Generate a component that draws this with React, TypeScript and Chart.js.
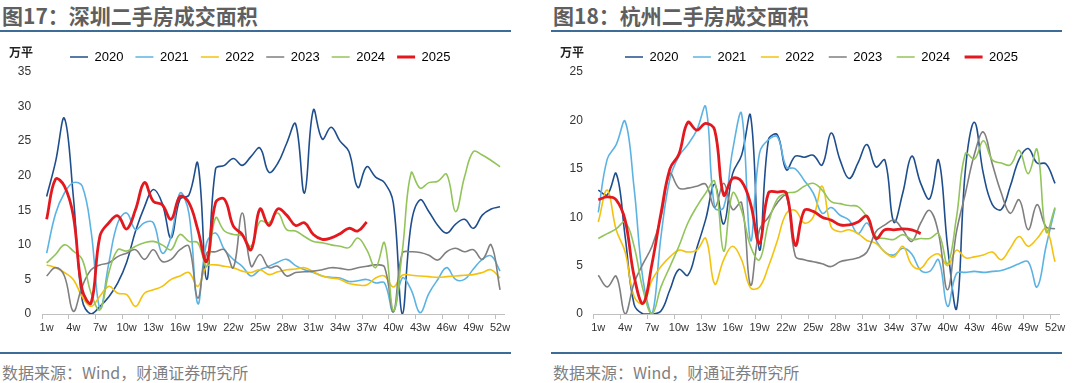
import React, { useEffect, useRef } from 'react';
import { Chart, registerables } from 'chart.js';

Chart.register(...registerables);

// ---- categories / labels ----
const weeks = [
  '1w', '2w', '3w', '4w', '5w', '6w', '7w', '8w', '9w', '10w', '11w', '12w', '13w',
  '14w', '15w', '16w', '17w', '18w', '19w', '20w', '21w', '22w', '23w', '24w', '25w', '26w',
  '27w', '28w', '29w', '30w', '31w', '32w', '33w', '34w', '35w', '36w', '37w', '38w', '39w',
  '40w', '41w', '42w', '43w', '44w', '45w', '46w', '47w', '48w', '49w', '50w', '51w', '52w',
];
const seriesNames = ['2020', '2021', '2022', '2023', '2024', '2025'];
const seriesColors = ['#1f4e8d', '#5cb3e3', '#f4c20d', '#7f7f7f', '#92c45a', '#e3191f'];

// ---- Shenzhen (万平) ----
const sz2020 = [17, 22, 28.3, 17, 2, 0, 1.1, 2.5, 4.5, 7.5, 12, 15.5, 18, 16, 11, 16.6, 17.2, 21.8, 5, 21, 21.5, 22.5, 21.5, 22.8, 24, 20.5, 21.8, 24.7, 27.5, 17.5, 29.5, 25.3, 27, 25, 23.5, 18.3, 21.3, 19.8, 19, 16, 0, 13, 16.5, 14.8, 12.8, 11.7, 13, 13.7, 12.4, 14.3, 15.2, 15.5];
const sz2021 = [8.8, 14.5, 17.5, 19, 18.5, 12, 0.8, 7.4, 13.2, 14.6, 12.2, 13.2, 13.2, 8.8, 11.2, 17.5, 14.6, 1.5, 10.3, 11.7, 9.3, 7.9, 6.9, 5.5, 6.4, 6.9, 7.5, 7.9, 7, 6.4, 6, 5.5, 5.3, 5.2, 4.7, 4.8, 5, 4.5, 4.5, 0.3, 5.2, 3.5, 0.2, 3, 5, 6.7, 5, 5, 6.5, 7.9, 8.4, 6.2];
const sz2022 = [7.1, 6.7, 6, 5, 2.5, 1.1, 2.6, 4, 3, 2.8, 1.1, 3, 3.5, 4, 5, 5.5, 6, 4, 6.9, 7.1, 6.9, 6.7, 6.2, 6, 6.4, 5.7, 6.1, 6.4, 6.5, 6.7, 6.1, 5.5, 5.2, 5, 4.4, 4.2, 4.2, 5.2, 5.5, 3.9, 5.6, 5.6, 5.5, 5.4, 5.3, 5.4, 5.5, 5.6, 5.7, 6, 6.4, 5.2];
const sz2023 = [5.5, 6.7, 5.5, 0.4, 4, 6.4, 7.1, 7.4, 8.3, 8.8, 9.3, 7.9, 9.3, 7.6, 7.9, 9.3, 9.8, 2.3, 8.8, 9, 9.3, 6.7, 14.6, 6.9, 8.6, 6.7, 6.9, 5.5, 6, 6.1, 6.2, 6.4, 6.7, 6.6, 6.4, 6.7, 6.9, 7.1, 6.8, 0.3, 8.8, 9, 8.9, 8.5, 7.8, 9, 9.5, 9, 9.3, 7.9, 10, 3.5];
const sz2024 = [7.4, 8.6, 10, 9.1, 7.9, 3, 0.6, 6, 9.3, 9.1, 9.8, 10.3, 10.5, 10, 9.3, 11.5, 10.5, 10.3, 6.9, 13.9, 12, 11.5, 11.3, 9.8, 13.4, 13.2, 14.6, 12.2, 12, 11.2, 10.5, 10.3, 10, 9.8, 9.6, 11, 9.3, 6.7, 10.3, 0.5, 9, 20.4, 18.2, 19, 19.2, 20.2, 14.8, 19.8, 23.5, 23, 22.2, 21.3];
const sz2025 = [13.7, 19.5, 18.5, 14.2, 3.5, 1.6, 11.3, 13.2, 14.2, 12.3, 15.1, 19, 16.3, 15.8, 13.7, 17, 16.1, 12.2, 7.6, 16.1, 16.6, 12.7, 11.5, 9.3, 15.2, 12.8, 15.2, 14.3, 12.8, 13.2, 11.5, 10.8, 11, 11.6, 12.4, 12, 13.3];

// ---- Hangzhou (万平) ----
const hz2020 = [12.8, 12.3, 14.5, 8, 1, 0, 0, 0.3, 2.5, 4.6, 4, 6.8, 9.8, 13.4, 9.3, 14.5, 16.4, 20.5, 6.6, 18, 18.5, 14.9, 16.3, 16.2, 16.4, 15.4, 18.7, 15.9, 14, 15.6, 17.5, 15.2, 15.9, 9.5, 12.5, 16.3, 13.5, 11.9, 15.9, 7, 0.5, 15, 19.8, 14.5, 11.3, 10.8, 13.2, 16, 17.1, 15.6, 15.5, 13.5];
const hz2021 = [10.5, 16, 17.5, 19.9, 13, 3.5, 0, 8, 14, 16.3, 17.5, 19, 21.4, 11, 11, 16.9, 20.7, 7.6, 16.6, 18, 18.3, 15.2, 15, 13.8, 12.5, 10.4, 11, 10.2, 9.7, 8.3, 9.4, 7.6, 6.4, 6.1, 6.8, 6.2, 4.5, 4.4, 5.6, 0.8, 4.2, 4.3, 4.4, 4.3, 4.4, 4.5, 4.8, 5.2, 5.4, 2.8, 7, 10.9];
const hz2022 = [9.5, 12.8, 8.7, 6.4, 1.8, 1.1, 3.5, 4.9, 5.9, 6.6, 6.4, 6.6, 7.8, 3.1, 5.6, 7, 5.6, 2.7, 2.8, 4.9, 7.6, 10.4, 10.7, 9.4, 10, 13.2, 9, 8.5, 8.7, 8.3, 7.6, 7.3, 6.4, 5.9, 7, 5.1, 4.7, 5.8, 6.2, 5, 6.6, 5.8, 5.9, 6.1, 6.4, 5.6, 6.8, 8, 7, 7.8, 8.8, 5.4];
const hz2023 = [4, 2.8, 3.9, 0, 3.2, 5.2, 7, 10, 14.5, 13, 13, 13.2, 13.4, 11, 13.5, 10.8, 11.5, 3, 8.7, 10, 11.5, 12.2, 6, 5.6, 5.4, 5.2, 4.9, 5.4, 5.6, 5.8, 6.4, 8.5, 9.2, 9.7, 8.7, 7.5, 9.4, 10.7, 8.3, 2.5, 8.5, 12.5, 16.5, 18.8, 15.5, 12.5, 10.4, 11.8, 8.7, 11.3, 9, 8.8];
const hz2024 = [7.8, 8.3, 8.8, 9.5, 7, 2.5, 0, 2.8, 4.9, 7, 9.4, 11.1, 12.5, 13.7, 6.5, 12.5, 10.7, 7, 5.6, 9.4, 11.9, 12.5, 12.6, 13.2, 13.5, 12.8, 11.6, 11.4, 11.2, 11.1, 10, 8, 7.8, 7.7, 8.2, 7.7, 7.8, 7.8, 8.3, 5.2, 10, 16.6, 16, 17.9, 15.9, 15.6, 15.4, 16.9, 14.5, 17, 8.5, 11];
const hz2025 = [11.8, 12.1, 11.8, 9.7, 3.9, 1.1, 5.2, 10.4, 15, 16.5, 19.8, 19, 19.7, 19, 12.3, 14, 13.7, 11.4, 7.3, 12.5, 12.6, 12.5, 7.1, 10.7, 10.6, 10, 9.7, 9.2, 9.2, 9.5, 10.1, 7.8, 8.7, 8.7, 8.8, 8.7, 8.3];

const szSeries = [sz2020, sz2021, sz2022, sz2023, sz2024, sz2025];
const hzSeries = [hz2020, hz2021, hz2022, hz2023, hz2024, hz2025];

const szYMax = 35;
const hzYMax = 25;

const AXIS_FONT = 'Arial, "Liberation Sans", sans-serif';
const CJK_FONT = '"Noto Sans CJK SC", "Noto Sans", sans-serif';

type PanelGeom = {
  left: number;
  top: number;
  width: number;
  height: number;
  padLeft: number;
  padRight: number;
  padTop: number;
  yWidth: number;
  legendPad: number;
  legendMaxH: number;
  legendStartX: number; // canvas x where first legend line starts
};

function ChartPanel({ series, yMax, g }: { series: number[][]; yMax: number; g: PanelGeom }) {
  const ref = useRef<HTMLCanvasElement | null>(null);
  useEffect(() => {
    if (!ref.current) return;
    const legendShift = {
      id: 'legendShift',
      afterLayout(chart: any) {
        const lg = chart.legend;
        if (!lg || !lg.lineWidths) return;
        const p = lg.options.labels.padding;
        const start = (lg.left + p + lg.right - lg.lineWidths[0]) / 2;
        const dx = g.legendStartX - start;
        lg.left += dx;
        lg.right += dx;
      },
    };
    const chart = new Chart(ref.current, {
      type: 'line',
      data: {
        labels: weeks,
        datasets: seriesNames.map((name, i) => ({
          label: name,
          data: series[i],
          borderColor: seriesColors[i],
          backgroundColor: seriesColors[i],
          borderWidth: i === 5 ? 2.8 : 1.6,
          pointRadius: 0,
          pointHoverRadius: 0,
          tension: 0.4,
          fill: false,
          order: 5 - i,
        })),
      },
      options: {
        animation: false,
        responsive: false,
        maintainAspectRatio: false,
        events: [],
        layout: { padding: { left: g.padLeft, right: g.padRight, top: g.padTop, bottom: 0 } },
        plugins: {
          tooltip: { enabled: false },
          legend: {
            display: true,
            position: 'top',
            align: 'center',
            maxHeight: g.legendMaxH,
            labels: {
              usePointStyle: true,
              pointStyle: 'line',
              pointStyleWidth: 18,
              padding: g.legendPad,
              color: '#000',
              font: { family: AXIS_FONT, size: 13 },
              sort: (a: any, b: any) => a.datasetIndex - b.datasetIndex,
            },
          },
        },
        scales: {
          x: {
            offset: true,
            grid: {
              offset: true,
              drawOnChartArea: false,
              drawTicks: true,
              tickLength: 5,
              color: (ctx: any) => (ctx.index !== undefined && ctx.index % 3 === 0 ? '#bfbfbf' : 'rgba(0,0,0,0)'),
            },
            border: { display: true, color: '#bfbfbf', width: 1 },
            ticks: {
              autoSkip: false,
              maxRotation: 0,
              minRotation: 0,
              padding: 2,
              color: '#333',
              font: { family: AXIS_FONT, size: 11 },
              callback: (_v: any, i: number) => (i % 3 === 0 ? weeks[i] : ''),
            },
            afterFit: (s: any) => {
              s.height = 26;
            },
          },
          y: {
            min: 0,
            max: yMax,
            ticks: { stepSize: 5, padding: 11, color: '#333', font: { family: AXIS_FONT, size: 12 } },
            grid: { display: false, drawTicks: false },
            border: { display: false },
            afterFit: (s: any) => {
              s.width = g.yWidth;
            },
          },
        },
      },
      plugins: [legendShift],
    } as any);
    return () => chart.destroy();
  }, []);
  return (
    <canvas
      ref={ref}
      width={g.width}
      height={g.height}
      style={{ position: 'absolute', left: g.left, top: g.top, width: g.width, height: g.height }}
    />
  );
}

const leftGeom: PanelGeom = {
  left: 0, top: 36, width: 515, height: 304,
  padLeft: 4, padRight: 10.5, padTop: 2.5, yWidth: 38.2,
  legendPad: 12, legendMaxH: 33.5, legendStartX: 70,
};
const rightGeom: PanelGeom = {
  left: 551, top: 36, width: 521, height: 304,
  padLeft: 4, padRight: 12.5, padTop: 0, yWidth: 38.8,
  legendPad: 14.5, legendMaxH: 36, legendStartX: 74,
};

function Header({ x, lineW, text }: { x: number; lineW: number; text: string }) {
  return (
    <>
      <div
        style={{
          position: 'absolute', left: x + 2, top: 4, height: 22, lineHeight: '22px',
          fontFamily: CJK_FONT, fontSize: 21, fontWeight: 700, color: '#5f5f5f', whiteSpace: 'nowrap',
        }}
      >
        {text}
      </div>
      <div style={{ position: 'absolute', left: x, top: 30, width: lineW, height: 2, background: '#3d6d96' }} />
    </>
  );
}

function Footer({ x, lineW }: { x: number; lineW: number }) {
  return (
    <>
      <div style={{ position: 'absolute', left: x, top: 352, width: lineW, height: 2, background: '#3d6d96' }} />
      <div
        style={{
          position: 'absolute', left: x + 2, top: 362, height: 20, lineHeight: '20px',
          fontFamily: CJK_FONT, fontSize: 16, color: '#7f7f7f', whiteSpace: 'nowrap',
        }}
      >
        数据来源：Wind，财通证券研究所
      </div>
    </>
  );
}

function UnitLabel({ x }: { x: number }) {
  return (
    <div
      style={{
        position: 'absolute', left: x, top: 44, height: 16, lineHeight: '16px', zIndex: 2,
        fontFamily: CJK_FONT, fontSize: 12, fontWeight: 700, color: '#222', whiteSpace: 'nowrap',
      }}
    >
      万平
    </div>
  );
}

export default function App() {
  return (
    <div style={{ position: 'absolute', left: 0, top: 0, width: 1080, height: 383, background: '#fff', overflow: 'hidden' }}>
      <Header x={0} lineW={511} text="图17：深圳二手房成交面积" />
      <Header x={551} lineW={511} text="图18：杭州二手房成交面积" />
      <ChartPanel series={szSeries} yMax={szYMax} g={leftGeom} />
      <ChartPanel series={hzSeries} yMax={hzYMax} g={rightGeom} />
      <UnitLabel x={9} />
      <UnitLabel x={560} />
      <Footer x={0} lineW={511} />
      <Footer x={551} lineW={511} />
    </div>
  );
}
